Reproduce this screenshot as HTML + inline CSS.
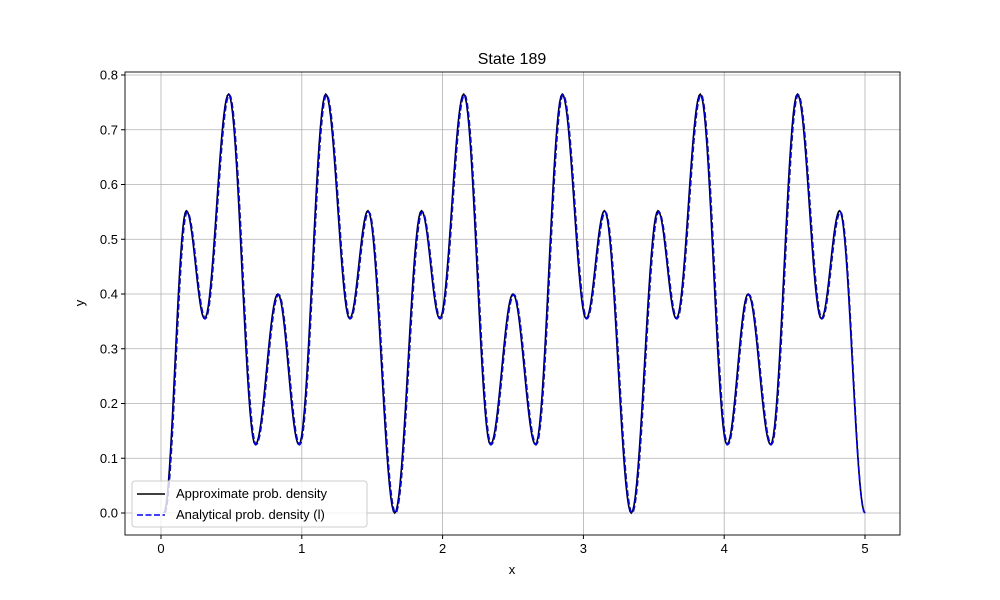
<!DOCTYPE html>
<html><head><meta charset="utf-8"><style>
body{margin:0;background:#fff;}
svg{display:block;font-family:"Liberation Sans","DejaVu Sans",sans-serif;}
</style></head><body>
<svg id="c" width="1000" height="600"></svg>
<script>
const xTicks=[0,1,2,3,4,5];
const yTicks=[0.0,0.1,0.2,0.3,0.4,0.5,0.6,0.7,0.8];
const yTickLabels=["0.0","0.1","0.2","0.3","0.4","0.5","0.6","0.7","0.8"];
const extX=[0.02,0.18,0.31,0.48,0.67,0.83,0.98,1.17,1.34,1.47,1.66,1.85,1.98,2.15,2.34,2.5,2.66,2.85,3.02,3.15,3.34,3.53,3.66,3.83,4.02,4.17,4.33,4.52,4.69,4.82,5.0];
const approxY=[0.0,0.552,0.355,0.765,0.125,0.40,0.125,0.765,0.355,0.552,0.0,0.552,0.355,0.765,0.125,0.40,0.125,0.765,0.355,0.552,0.0,0.552,0.355,0.765,0.125,0.40,0.125,0.765,0.355,0.552,0.0];
const analyticY=[0.0,0.550,0.355,0.764,0.125,0.399,0.125,0.764,0.355,0.550,0.0,0.550,0.355,0.764,0.125,0.399,0.125,0.764,0.355,0.550,0.0,0.550,0.355,0.764,0.125,0.399,0.125,0.764,0.355,0.550,0.0];
const L=125,R=900,T=72,B=535;
const xs=v=>161+v*140.8, ys=v=>513-v*547.5;
const svg=document.getElementById('c');const NS='http://www.w3.org/2000/svg';
function mk(t,a,p){const e=document.createElementNS(NS,t);for(const k in a)e.setAttribute(k,a[k]);(p||svg).appendChild(e);return e;}
function txt(x,y,s,a){const e=mk('text',Object.assign({x:x,y:y,'font-size':13,fill:'#000'},a||{}));e.textContent=s;return e;}
// grid
xTicks.forEach(v=>{const g=mk('line',{x1:xs(v),x2:xs(v),y1:T,y2:B,stroke:'#b0b0b0','stroke-width':0.8});

});
yTicks.forEach(v=>{const g=mk('line',{x1:L,x2:R,y1:ys(v),y2:ys(v),stroke:'#b0b0b0','stroke-width':0.8});

});
function pathFor(xa,ya){let d='';for(let i=0;i<xa.length-1;i++){const n=20;for(let j=(i?1:0);j<=n;j++){const t=j/n,s=(1-Math.cos(Math.PI*t))/2;const x=xa[i]+(xa[i+1]-xa[i])*t,y=ya[i]+(ya[i+1]-ya[i])*s;d+=(d?'L':'M')+xs(x).toFixed(2)+','+ys(y).toFixed(2);}}return d;}
const p1=mk('path',{d:pathFor(extX,approxY),fill:'none',stroke:'#000','stroke-width':1.6});


const p2=mk('path',{d:pathFor(extX.map(v=>Math.min(5,v+0.006)),analyticY),fill:'none',stroke:'#0000ff','stroke-width':1.6,'stroke-dasharray':'6,2.5'});


const fr=mk('rect',{x:L,y:T,width:R-L,height:B-T,fill:'none',stroke:'#000','stroke-width':0.9});


xTicks.forEach(v=>{mk('line',{x1:xs(v),x2:xs(v),y1:B,y2:B+4,stroke:'#000'});const t=txt(xs(v),B+18,String(v),{'text-anchor':'middle'});

});
yTicks.forEach((v,i)=>{mk('line',{x1:L-4,x2:L,y1:ys(v),y2:ys(v),stroke:'#000'});const t=txt(L-7,ys(v)+4.5,yTickLabels[i],{'text-anchor':'end'});

});
</script>
<script>
(function(){const svg=document.getElementById('c');const NS='http://www.w3.org/2000/svg';
function mk(t,a){const e=document.createElementNS(NS,t);for(const k in a)e.setAttribute(k,a[k]);svg.appendChild(e);return e;}
let e=mk('text',{x:512,y:64,'font-size':16,'text-anchor':'middle'});e.textContent='State 189';


e=mk('text',{x:512,y:574,'font-size':13,'text-anchor':'middle'});e.textContent='x';


e=mk('text',{x:84,y:303,'font-size':13,'text-anchor':'middle',transform:'rotate(-90 84 303)'});e.textContent='y';


e=mk('rect',{x:132,y:481,width:235,height:46,rx:3,fill:'#fff','fill-opacity':0.8,stroke:'#ccc'});


mk('line',{x1:137,x2:165,y1:494,y2:494,stroke:'#000','stroke-width':1.6});
mk('line',{x1:137,x2:165,y1:515,y2:515,stroke:'#0000ff','stroke-width':1.6,'stroke-dasharray':'6,2.5'});
e=mk('text',{x:176,y:498,'font-size':13});e.textContent='Approximate prob. density';


e=mk('text',{x:176,y:519,'font-size':13});e.textContent='Analytical prob. density (l)';


})();
</script>
</body></html>
